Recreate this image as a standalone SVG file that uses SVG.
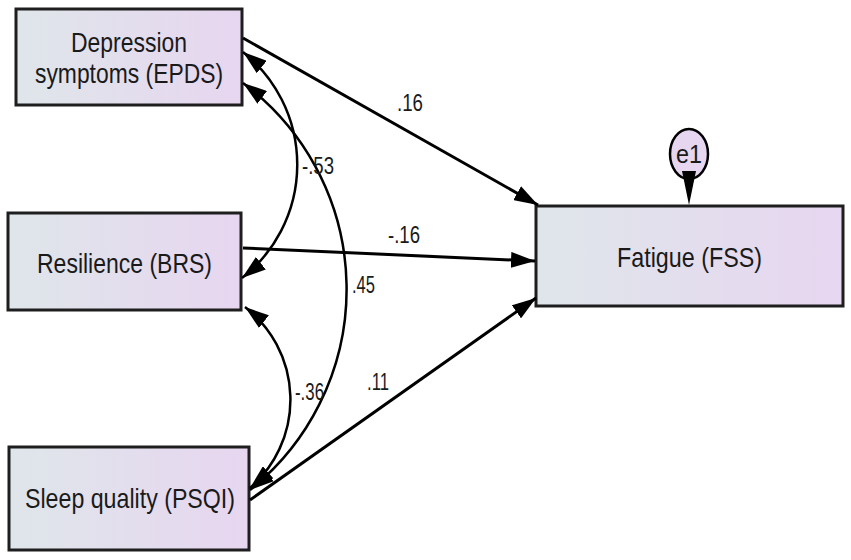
<svg xmlns="http://www.w3.org/2000/svg" width="851" height="560" viewBox="0 0 851 560">
<style>
.box{stroke:#1e1e1e;stroke-width:3;fill:url(#g)}
.nt{font-family:"Liberation Sans",Arial,sans-serif;font-size:28px;fill:#1a1a1a}
.lb{font-family:"Liberation Sans",Arial,sans-serif;font-size:23px;fill:#1a1a1a}
.ln{stroke:#000;stroke-width:3;fill:none}
.cv{stroke:#000;stroke-width:2.5;fill:none}
</style>
<defs>
<linearGradient id="g" x1="0" y1="0" x2="1" y2="0">
<stop offset="0" stop-color="#dfe6ea"/>
<stop offset="1" stop-color="#e7d6f0"/>
</linearGradient>
<marker id="ah" markerUnits="userSpaceOnUse" markerWidth="26" markerHeight="16" refX="24" refY="8" orient="auto-start-reverse" viewBox="0 0 26 16">
<path d="M0,0 L24,8 L0,16 z" fill="#000"/>
</marker>
</defs>
<rect width="851" height="560" fill="#fff"/>
<g id="depression">
<rect class="box" x="16" y="9" width="226" height="96"/>
<text class="nt" x="71" y="52" textLength="116" lengthAdjust="spacingAndGlyphs">Depression</text>
<text class="nt" x="35" y="83" textLength="188" lengthAdjust="spacingAndGlyphs">symptoms (EPDS)</text>
</g>
<g id="resilience">
<rect class="box" x="8" y="213" width="233" height="97"/>
<text class="nt" x="37" y="273" textLength="175" lengthAdjust="spacingAndGlyphs">Resilience (BRS)</text>
</g>
<g id="sleep">
<rect class="box" x="9" y="447" width="240" height="103"/>
<text class="nt" x="25" y="508" textLength="210" lengthAdjust="spacingAndGlyphs">Sleep quality (PSQI)</text>
</g>
<g id="fatigue">
<rect class="box" x="536" y="206" width="307" height="100"/>
<text class="nt" x="617" y="267" textLength="145" lengthAdjust="spacingAndGlyphs">Fatigue (FSS)</text>
</g>
<g id="e1">
<ellipse cx="689" cy="154" rx="19" ry="25" fill="#e6d6ef" stroke="#000" stroke-width="2.5"/>
<text class="nt" x="676" y="163" textLength="26" lengthAdjust="spacingAndGlyphs" style="font-size:25px">e1</text>
</g>
<g id="connectors">
<polygon points="682,171 696,171 689,205" fill="#000"/>
<line class="ln" x1="243" y1="38" x2="538" y2="205" marker-end="url(#ah)"/>
<line class="ln" x1="243" y1="248" x2="535" y2="261" marker-end="url(#ah)"/>
<line class="ln" x1="250" y1="500" x2="536" y2="298" marker-end="url(#ah)"/>
<path class="cv" d="M243,52 A144,144 0 0 1 242,278" marker-start="url(#ah)" marker-end="url(#ah)"/>
<path class="cv" d="M243,83 A257,257 0 0 1 250,490" marker-start="url(#ah)" marker-end="url(#ah)"/>
<path class="cv" d="M245,307 A117,117 0 0 1 250,488" marker-start="url(#ah)" marker-end="url(#ah)"/>
<text class="lb" x="397" y="111" textLength="26" lengthAdjust="spacingAndGlyphs">.16</text>
<text class="lb" x="388" y="243" textLength="32" lengthAdjust="spacingAndGlyphs">-.16</text>
<text class="lb" x="302" y="174" textLength="32" lengthAdjust="spacingAndGlyphs">-.53</text>
<text class="lb" x="352" y="293" textLength="23" lengthAdjust="spacingAndGlyphs">.45</text>
<text class="lb" x="367" y="390" textLength="22" lengthAdjust="spacingAndGlyphs">.11</text>
<text class="lb" x="295" y="400" textLength="29" lengthAdjust="spacingAndGlyphs">-.36</text>
</g>
</svg>
